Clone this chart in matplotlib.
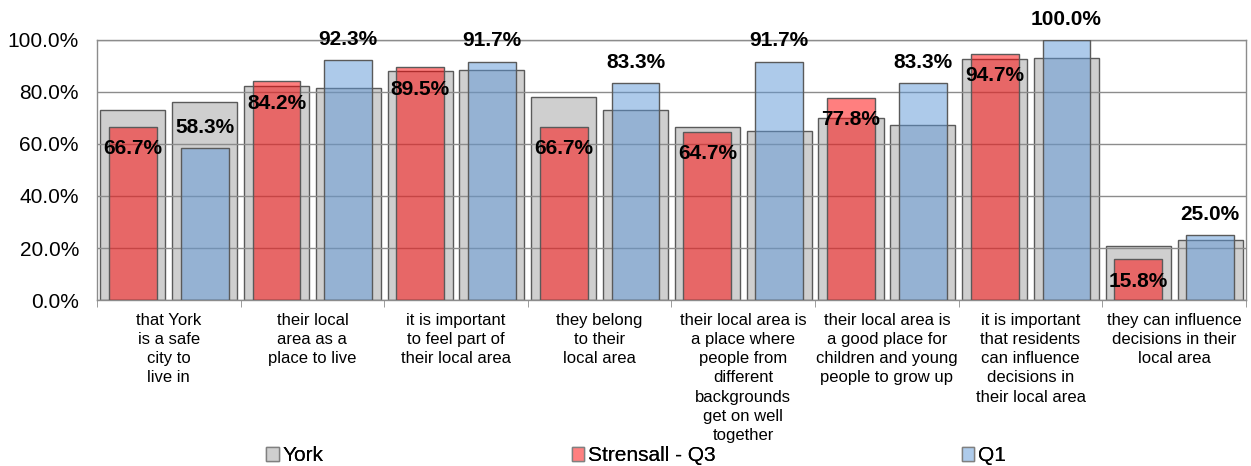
import matplotlib
matplotlib.use("Agg")
import matplotlib.pyplot as plt
from matplotlib.patches import Patch
import numpy as np

plt.rcParams['font.family'] = ['Liberation Sans', 'DejaVu Sans']

categories = [
    "that York\nis a safe\ncity to\nlive in",
    "their local\narea as a\nplace to live",
    "it is important\nto feel part of\ntheir local area",
    "they belong\nto their\nlocal area",
    "their local area is\na place where\npeople from\ndifferent\nbackgrounds\nget on well\ntogether",
    "their local area is\na good place for\nchildren and young\npeople to grow up",
    "it is important\nthat residents\ncan influence\ndecisions in\ntheir local area",
    "they can influence\ndecisions in their\nlocal area",
]
york_q3 = [73.0, 82.3, 88.0, 78.0, 66.7, 69.9, 92.6, 20.9]
york_q1 = [76.2, 81.5, 88.5, 73.1, 65.1, 67.2, 93.2, 22.9]
strensall_q3 = [66.7, 84.2, 89.5, 66.7, 64.7, 77.8, 94.7, 15.8]
strensall_q1 = [58.3, 92.3, 91.7, 83.3, 91.7, 83.3, 100.0, 25.0]
yticks = [0, 20, 40, 60, 80, 100]
legend_labels = ['York', 'Strensall - Q3', 'Q1']

fig = plt.figure(figsize=(12.51, 4.66), dpi=100)
ax = fig.add_axes([0.0775, 0.3562, 0.9185, 0.558])

x = np.arange(len(categories))
off = 0.25
gw = 0.453
cw = 0.333
edge = '#5a5a5a'

ax.bar(x - off, york_q3, gw, color='#cfcfcf', edgecolor=edge, linewidth=1, zorder=2)
ax.bar(x + off, york_q1, gw, color='#cfcfcf', edgecolor=edge, linewidth=1, zorder=2)
ax.bar(x - off, strensall_q3, cw, color=(1.0, 0.0, 0.0, 0.5), edgecolor=edge, linewidth=1, zorder=3)
ax.bar(x + off, strensall_q1, cw, color=(93/255, 151/255, 215/255, 0.5), edgecolor=edge, linewidth=1, zorder=3)

for xi, v in zip(x, strensall_q3):
    ax.annotate(f"{v:.1f}%", (xi - off, v), xytext=(0, -16), textcoords='offset points',
                ha='center', va='center', fontsize=15, fontweight='bold', zorder=6, annotation_clip=False)
for xi, v in zip(x, strensall_q1):
    ax.annotate(f"{v:.1f}%", (xi + off, v), xytext=(0, 15), textcoords='offset points',
                ha='center', va='center', fontsize=15, fontweight='bold', zorder=6, annotation_clip=False)

ax.set_ylim(0, 100)
ax.set_xlim(-0.5, len(categories) - 0.5)
ax.set_yticks(yticks)
ax.set_yticklabels([f"{t:.1f}%" for t in yticks], fontsize=15)
ax.yaxis.grid(True, color='#8c8c8c', linewidth=1, zorder=4)
ax.set_axisbelow(False)
for gl in ax.get_ygridlines():
    gl.set_zorder(4)

ax.set_xticks(x)
ax.set_xticklabels(categories, fontsize=12, linespacing=1.36)
ax.set_xticks(np.arange(len(categories) + 1) - 0.5, minor=True)
ax.tick_params(axis='x', which='major', length=0, pad=9)
ax.tick_params(axis='x', which='minor', length=5, color='#8c8c8c')
ax.tick_params(axis='y', length=0, pad=13)

for s in ['left', 'right', 'top', 'bottom']:
    ax.spines[s].set_color('#8c8c8c')
    ax.spines[s].set_linewidth(1)

legend_colors = ['#cfcfcf', '#ff8080', '#aecbeb']
legend_x = [266 / 1251, 571.5 / 1251, 961.5 / 1251]
for lab, col, lx in zip(legend_labels, legend_colors, legend_x):
    leg = fig.legend(handles=[Patch(facecolor=col, edgecolor='#808080', label=lab)],
                     loc='center left', bbox_to_anchor=(lx, 0.022),
                     frameon=False, fontsize=15, handlelength=0.6, handleheight=0.6,
                     handletextpad=0.2, borderpad=0, borderaxespad=0)
    fig.add_artist(leg)

fig.savefig('out.png', dpi=100)
